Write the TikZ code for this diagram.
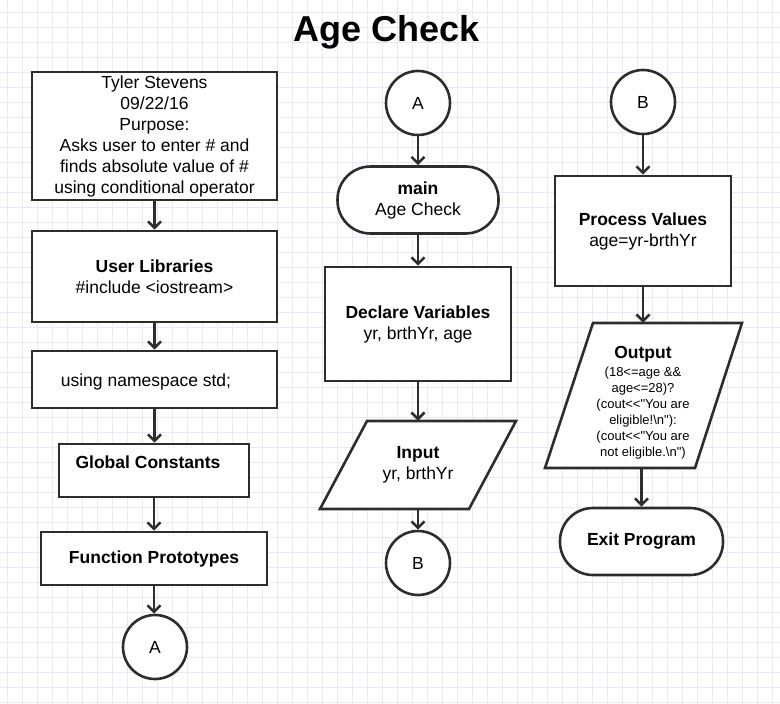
\documentclass[tikz,border=0pt]{standalone}
\usepackage{fontspec}
\newfontfamily\af{Liberation Sans}
\usetikzlibrary{arrows.meta,calc}
\definecolor{gridc}{RGB}{232,232,250}
\definecolor{linec}{RGB}{45,45,45}
\begin{document}
\begin{tikzpicture}[x=1pt,y=-1pt,
 every node/.style={font=\af\fontsize{17.5}{21}\selectfont, text=black, inner sep=0pt, align=center},
 box/.style={draw=linec, line width=2.6pt, fill=white},
 term/.style={box, rectangle, rounded corners=33pt},
 circ/.style={box, circle, minimum size=64pt},
 arr/.style={draw=linec, line width=2.6pt, -{Straight Barb[length=6.5pt,width=13pt]}},
 small/.style={font=\af\fontsize{13}{16}\selectfont},
 bold/.style={font=\af\bfseries\fontsize{17.5}{21}\selectfont}
]
% background and grid
\fill[white] (0,0) rectangle (780,704);
\useasboundingbox (0,0) rectangle (780,704);
\foreach \i in {0,...,51} \draw[gridc, line width=0.7pt] (7.5+15*\i,0) -- (7.5+15*\i,704);
\foreach \j in {0,...,46} \draw[gridc, line width=0.7pt] (0,12.7+15*\j) -- (780,12.7+15*\j);

% title
\node[font=\af\bfseries\fontsize{36}{40}\selectfont] (title) at (387,32) {Age Check};

% left column
\node[box, rectangle, minimum width=245pt, minimum height=128pt] (hdr) at (154.5,136)
  {Tyler Stevens\\09/22/16\\Purpose:\\Asks user to enter \# and\\finds absolute value of \#\\using conditional operator};
\node[box, rectangle, minimum width=245pt, minimum height=91pt] (lib) at (154.5,276.5)
  {\textbf{User Libraries}\\\#include <iostream>};
\node[box, rectangle, minimum width=245pt, minimum height=57pt] (ns) at (154.5,379.5) {};
\node (nst) at (146,382) {using namespace std;};
\node[box, rectangle, minimum width=190pt, minimum height=53pt] (gc) at (154,470.5) {};
\node[bold] (gct) at (148,462) {Global Constants};
\node[box, rectangle, minimum width=226pt, minimum height=53pt] (fp) at (154,558.5) {\textbf{Function Prototypes}};
\node[circ] (a1) at (155,647) {A};

\draw[arr] (hdr.south) -- (hdr.south |- lib.north);
\draw[arr] (lib.south) -- (lib.south |- ns.north);
\draw[arr] (ns.south) -- (ns.south |- gc.north);
\draw[arr] (gc.south) -- (gc.south |- fp.north);
\draw[arr] (fp.south) -- (fp.south |- a1.north);

% middle column
\node[circ] (a2) at (418,103) {A};
\node[term, minimum width=161pt, minimum height=67pt] (main) at (418,200) {\textbf{main}\\Age Check};
\node[box, rectangle, minimum width=186pt, minimum height=114pt] (decl) at (418,324)
  {\textbf{Declare Variables}\\yr, brthYr, age};
\coordinate (inpc) at (418,465);
\draw[box, line join=miter] ($(inpc)+(-51,-44)$) -- ($(inpc)+(98,-44)$) -- ($(inpc)+(51,44)$) -- ($(inpc)+(-98,44)$) -- cycle;
\node[minimum width=196pt, minimum height=88pt] (inp) at (inpc) {\textbf{Input}\\yr, brthYr};
\node[circ] (b2) at (418,563) {B};

\draw[arr] (a2.south) -- (a2.south |- main.north);
\draw[arr] (main.south) -- (main.south |- decl.north);
\draw[arr] (decl.south) -- (decl.south |- inp.north);
\draw[arr] (inp.south) -- (inp.south |- b2.north);

% right column
\node[circ] (b1) at (643,102) {B};
\node[box, rectangle, minimum width=176pt, minimum height=110pt] (proc) at (643,231)
  {\textbf{Process Values}\\age=yr-brthYr};
\coordinate (outc) at (643.5,395.5);
\draw[box, line join=miter] ($(outc)+(-50.5,-72.5)$) -- ($(outc)+(98.5,-72.5)$) -- ($(outc)+(51.5,72.5)$) -- ($(outc)+(-98.5,72.5)$) -- cycle;
\node[minimum width=197pt, minimum height=145pt] (out) at (outc) {};
\node[bold] (outt) at (643,354) {Output};
\node[small] (outb) at (643,413)
  {(18<=age \&\&\\age<=28)?\\(cout<{}<"You are\\eligible!\textbackslash n"):\\(cout<{}<"You are\\not eligible.\textbackslash n")};
\node[term, minimum width=163pt, minimum height=67pt] (exit) at (641.5,541.5) {\textbf{Exit Program}};

\draw[arr] (b1.south) -- (b1.south |- proc.north);
\draw[arr] (proc.south) -- (proc.south |- out.north);
\draw[arr] (exit.north |- out.south) -- (exit.north);
\end{tikzpicture}
\end{document}
